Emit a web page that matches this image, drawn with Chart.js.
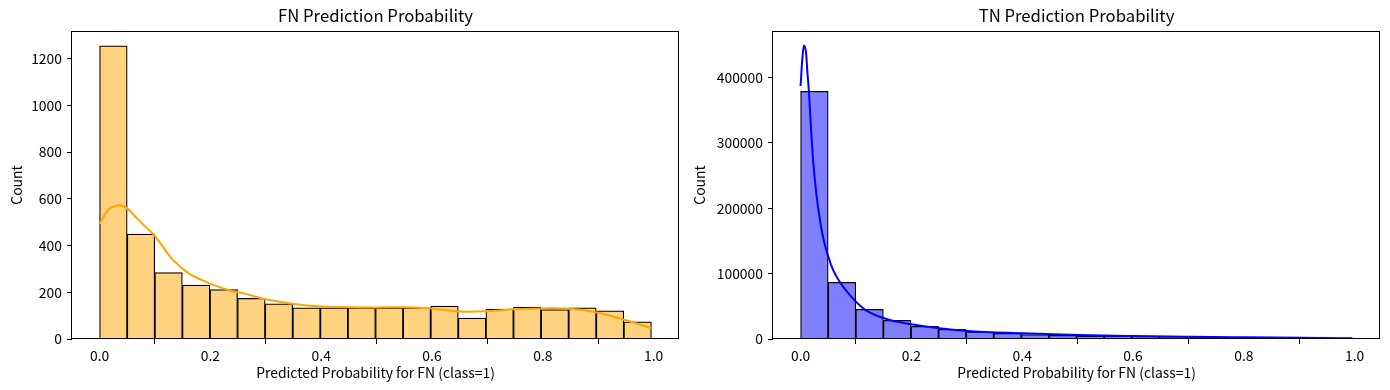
<!DOCTYPE html>
<html>
<head>
<meta charset="utf-8">
<script src="https://cdn.jsdelivr.net/npm/chart.js@4.4.1/dist/chart.umd.min.js"></script>
<style>
  html, body { margin: 0; padding: 0; background: #fff; }
  #wrap { position: relative; width: 1390px; height: 390px; overflow: hidden; }
  #c1 { position: absolute; left: 0; top: 0; }
  #c2 { position: absolute; left: 685px; top: 0; }
</style>
</head>
<body>
<div id="wrap">
  <canvas id="c1" width="685" height="390"></canvas>
  <canvas id="c2" width="705" height="390"></canvas>
</div>
<script>
// ---- data ----
const binCount = 20;
const binStart = 0.0;
const binEnd = 0.996;

const fnCounts = [1255, 449, 284, 231, 211, 174, 150, 133, 133, 133, 133, 133, 141, 90, 128, 137, 126, 133, 121, 74];
const fnKdeX = [0, 0.016, 0.035, 0.05, 0.064, 0.082, 0.097, 0.112, 0.127, 0.142, 0.16, 0.184, 0.202, 0.232, 0.263, 0.3, 0.35, 0.4, 0.45, 0.5, 0.55, 0.6, 0.65, 0.7, 0.75, 0.8, 0.85, 0.9, 0.95, 0.996];
const fnKdeY = [492, 553, 572, 558, 525, 482, 449, 403, 353, 317, 282, 253, 235, 210, 193, 170, 150, 139, 136, 135, 136, 130, 118, 119, 127, 131, 129, 112, 80, 46];

const tnCounts = [378700, 86700, 45400, 28600, 19400, 14800, 11000, 8600, 6600, 5500, 4600, 4000, 3600, 3200, 2700, 2500, 2300, 2000, 1800, 1500];
const tnKdeX = [0, 0.003, 0.006, 0.01, 0.012, 0.015, 0.019, 0.023, 0.029, 0.035, 0.041, 0.05, 0.059, 0.071, 0.089, 0.116, 0.161, 0.197, 0.25, 0.3, 0.4, 0.5, 0.6, 0.7, 0.8, 0.9, 0.996];
const tnKdeY = [387000, 427000, 449000, 437000, 411000, 379000, 320000, 269000, 218000, 182000, 154000, 126000, 105000, 87000, 67000, 45000, 29000, 23000, 16300, 12200, 8700, 6100, 4600, 3500, 2600, 1800, 1000];

const xTicks = [0.0, 0.2, 0.4, 0.6, 0.8, 1.0];
const fnYTicks = [0, 200, 400, 600, 800, 1000, 1200];
const tnYTicks = [0, 100000, 200000, 300000, 400000];

const titles = ['FN Prediction Probability', 'TN Prediction Probability'];
const xLabel = 'Predicted Probability for FN (class=1)';
const yLabel = 'Count';

// ---- helpers ----
const FONT = '"Noto Sans CJK KR", "Noto Sans", sans-serif';
const binW = (binEnd - binStart) / binCount;
const margin = (binEnd - binStart) * 0.05;

function barPoints(counts) {
  return counts.map((c, i) => ({ x: binStart + (i + 0.5) * binW, y: c }));
}
function linePoints(xs, ys) {
  return xs.map((x, i) => ({ x: x, y: ys[i] }));
}

const boxPlugin = {
  id: 'box',
  afterDatasetsDraw(chart) {
    const { ctx, chartArea: a } = chart;
    ctx.save();
    ctx.strokeStyle = '#000';
    ctx.lineWidth = 1;
    const l = Math.round(a.left) - 0.5, t = Math.round(a.top) + 0.5;
    const r = Math.round(a.right) - 0.5, b = Math.round(a.bottom) - 0.5;
    ctx.strokeRect(l, t, r - l, b - t);
    ctx.restore();
  }
};

function makeChart(canvasId, title, counts, kx, ky, fill, lineColor, yTicks, yMax, yAxisW, padRight, yTitlePad, smooth) {
  const lineDs = {
    type: 'line',
    data: linePoints(kx, ky),
    borderColor: lineColor,
    borderWidth: 2,
    pointRadius: 0,
    fill: false,
    order: 0
  };
  if (smooth === 'monotone') lineDs.cubicInterpolationMode = 'monotone';
  else lineDs.tension = 0.4;
  return new Chart(document.getElementById(canvasId), {
    type: 'bar',
    data: {
      datasets: [
        lineDs,
        {
          type: 'line' === 'x' ? 'line' : 'bar',
          data: barPoints(counts),
          backgroundColor: fill,
          borderColor: '#000',
          borderWidth: { top: 1.25, left: 1.25, right: 1.25, bottom: 0 },
          borderSkipped: 'start',
          barPercentage: 1,
          categoryPercentage: 1,
          order: 1
        }
      ]
    },
    options: {
      responsive: false,
      animation: false,
      devicePixelRatio: 1,
      layout: { padding: { left: 0, right: padRight, top: 0, bottom: 0 } },
      plugins: {
        legend: { display: false },
        tooltip: { enabled: false },
        title: {
          display: true,
          text: title,
          fullSize: false,
          color: '#000',
          font: { family: FONT, size: 16.7, weight: 'normal', lineHeight: 1.2 },
          padding: { top: 6, bottom: 5 }
        }
      },
      scales: {
        x: {
          type: 'linear',
          offset: false,
          min: binStart - margin,
          max: binEnd + margin,
          afterBuildTicks: (s) => { s.ticks = xTicks.map(v => ({ value: v })); },
          afterFit: (s) => { s.height = 51; },
          ticks: {
            color: '#000',
            font: { family: FONT, size: 13.9 },
            padding: 3,
            maxRotation: 0,
            autoSkip: false,
            callback: (v) => Number(v).toFixed(1)
          },
          grid: { display: true, drawOnChartArea: false, drawTicks: true, tickLength: 5, color: '#000', lineWidth: 1 },
          border: { display: false },
          title: {
            display: true, text: xLabel, color: '#000',
            font: { family: FONT, size: 13.9, lineHeight: 1.2 },
            padding: { top: 0, bottom: 9 }
          }
        },
        y: {
          type: 'linear',
          min: 0,
          max: yMax,
          afterBuildTicks: (s) => { s.ticks = yTicks.map(v => ({ value: v })); },
          afterFit: (s) => { s.width = yAxisW; },
          ticks: {
            color: '#000',
            font: { family: FONT, size: 13.9 },
            padding: 5,
            autoSkip: false,
            callback: (v) => String(v)
          },
          grid: { display: true, drawOnChartArea: false, drawTicks: true, tickLength: 5, color: '#000', lineWidth: 1 },
          border: { display: false },
          title: {
            display: true, text: yLabel, color: '#000',
            font: { family: FONT, size: 13.9, lineHeight: 1.2 },
            padding: { top: yTitlePad, bottom: 0 }
          }
        }
      }
    },
    plugins: [boxPlugin]
  });
}

makeChart('c1', titles[0], fnCounts, fnKdeX, fnKdeY, '#FFD280', '#FFA500', fnYTicks, 1318, 72, 6, 8, 'tension');
makeChart('c2', titles[1], tnCounts, tnKdeX, tnKdeY, '#8080FF', '#0000FF', tnYTicks, 471000, 88, 10, 6, 'monotone');
</script>
</body>
</html>
